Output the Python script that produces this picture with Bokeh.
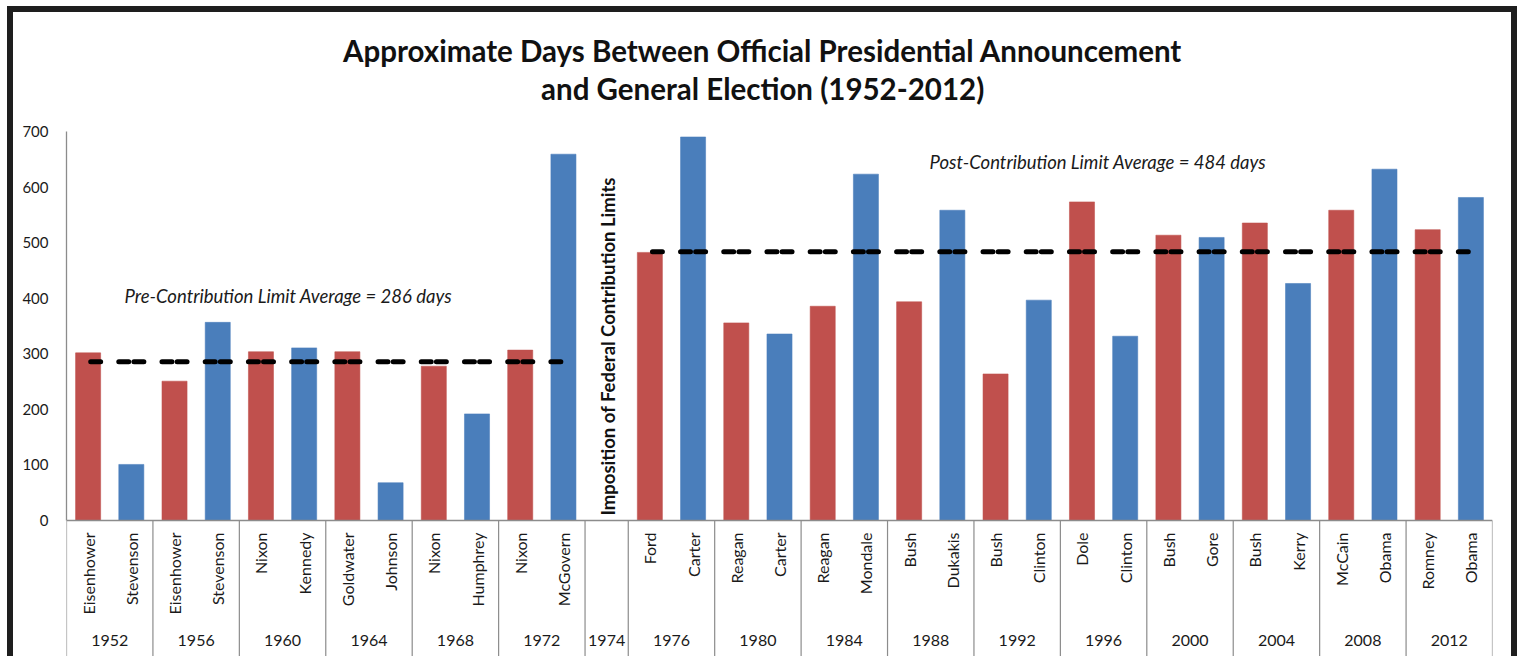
import math
from bokeh.plotting import figure
from bokeh.models import Range1d, FixedTicker, ColumnDataSource
from bokeh.core.properties import value
from bokeh.embed import file_html
from bokeh.resources import INLINE

# ---------------- data ----------------
years = ["1952", "1956", "1960", "1964", "1968", "1972", "1974", "1976", "1980",
         "1984", "1988", "1992", "1996", "2000", "2004", "2008", "2012"]
republicans = ["Eisenhower", "Eisenhower", "Nixon", "Goldwater", "Nixon", "Nixon", None,
               "Ford", "Reagan", "Reagan", "Bush", "Bush", "Dole", "Bush", "Bush",
               "McCain", "Romney"]
republican_days = [302, 251, 304, 304, 278, 307, None, 483, 356, 386, 394, 264, 574,
                   514, 536, 559, 524]
democrats = ["Stevenson", "Stevenson", "Kennedy", "Johnson", "Humphrey", "McGovern", None,
             "Carter", "Carter", "Mondale", "Dukakis", "Clinton", "Clinton", "Gore",
             "Kerry", "Obama", "Obama"]
democrat_days = [101, 357, 311, 68, 192, 660, None, 691, 336, 624, 559, 397, 332, 510,
                 427, 633, 582]
pre_limit_average = 286
post_limit_average = 484
limit_year = "1974"
y_ticks = [0, 100, 200, 300, 400, 500, 600, 700]

title_lines = ["Approximate Days Between Official Presidential Announcement",
               "and General Election (1952-2012)"]
pre_label = "Pre-Contribution Limit Average = 286 days"
post_label = "Post-Contribution Limit Average = 484 days"
limit_label = "Imposition of Federal  Contribution Limits"

RED = "#C0504D"
BLUE = "#4A7EBB"
TXT = "#1a1a1a"
AXIS = "#8c8c8c"
FONT = "Lato"

# ---------------- slot layout from categories ----------------
slot_x, slot_name, slot_val, slot_col = [], [], [], []
group_start, group_end = [], []
i = 0
for y, r, rv, d, dv in zip(years, republicans, republican_days, democrats, democrat_days):
    group_start.append(i)
    if r is None:
        i += 1
    else:
        slot_x.append(i + 0.5); slot_name.append(r); slot_val.append(rv); slot_col.append(RED)
        slot_x.append(i + 1.5); slot_name.append(d); slot_val.append(dv); slot_col.append(BLUE)
        i += 2
    group_end.append(i)
n_slots = i
limit_idx = years.index(limit_year)
limit_slot = group_start[limit_idx]

Y0, Y1 = -255.9, 915.3
p = figure(width=1510, height=650, x_range=Range1d(0, n_slots), y_range=Range1d(Y0, Y1),
           output_backend="svg", toolbar_location=None, x_axis_location=None,
           min_border_left=53, min_border_right=31, min_border_top=0, min_border_bottom=0)
p.styles = {"margin-left": "7px", "margin-top": "6px",
            "border-top": "6px solid #1e1e1e", "border-left": "6px solid #1e1e1e",
            "border-right": "6px solid #1e1e1e"}
p.outline_line_color = None
p.xgrid.visible = False
p.ygrid.visible = False
p.background_fill_color = "white"
p.border_fill_color = "white"

ax = p.yaxis[0]
ax.ticker = FixedTicker(ticks=y_ticks)
ax.bounds = (0, 700)
ax.axis_line_color = AXIS
ax.axis_line_width = 1.3
ax.major_tick_in = 0
ax.major_tick_out = 0
ax.minor_tick_in = 0
ax.minor_tick_out = 0
ax.major_label_standoff = 18
ax.major_label_text_font = FONT
ax.major_label_text_font_size = "15px"
ax.major_label_text_color = TXT

# title (two centred lines)
p.text(x=[16.11, 16.11], y=[847.7, 778.4], text=title_lines, text_align="center",
       text_baseline="alphabetic", text_font=value(FONT), text_font_style="bold",
       text_font_size="29.5px", text_color="#111111")

# bars
src = ColumnDataSource(dict(x=slot_x, top=slot_val, color=slot_col, name=slot_name))
p.vbar(x="x", top="top", bottom=0, width=0.58, fill_color="color", line_color="color",
       line_alpha=0.55, line_width=1, source=src)

# x axis line and separators
p.segment(x0=[0], y0=[0], x1=[n_slots], y1=[0], line_color=AXIS, line_width=1.3)
bounds = sorted(set(group_start + group_end))
p.segment(x0=bounds, y0=[0] * len(bounds), x1=bounds, y1=[Y0] * len(bounds),
          line_color=AXIS, line_width=1.2)

# candidate labels
p.text(x=slot_x, y=[-21.6] * len(slot_x), text=slot_name, angle=math.pi / 2,
       text_align="right", text_baseline="middle", text_font=value(FONT),
       text_font_size="16px", text_color=TXT)
# year labels
gx = [(s + e) / 2 for s, e in zip(group_start, group_end)]
p.text(x=gx, y=[-217] * len(gx), text=years, text_align="center", text_baseline="middle",
       text_font=value(FONT), text_font_size="16px", text_color=TXT)

# average dashed lines
def dashes(first, last, yv):
    x0, x1 = [], []
    for k in range(first, last + 1):
        c = k + 0.5
        if k != first:
            x0.append(c - 0.29); x1.append(c - 0.06)
        if k != last:
            x0.append(c + 0.06); x1.append(c + 0.29)
    return x0, x1, [yv] * len(x0)

a0, a1, ay = dashes(0, limit_slot - 1, pre_limit_average)
b0, b1, by = dashes(limit_slot + 1, n_slots - 1, post_limit_average)
p.segment(x0=a0 + b0, y0=ay + by, x1=a1 + b1, y1=ay + by, line_color="black",
          line_width=5, line_cap="round")

# annotations
p.text(x=[1.342], y=[404], text=[pre_label], text_align="left", text_baseline="alphabetic",
       text_font=value(FONT), text_font_style="italic", text_font_size="18.5px", text_color=TXT)
p.text(x=[19.97], y=[645.4], text=[post_label], text_align="left", text_baseline="alphabetic",
       text_font=value(FONT), text_font_style="italic", text_font_size="18.5px", text_color=TXT)
p.text(x=[limit_slot + 0.54], y=[9], text=[limit_label], angle=math.pi / 2,
       text_align="left", text_baseline="middle", text_font=value(FONT),
       text_font_style="bold", text_font_size="18.5px", text_color="#111111")

open("out.html", "w").write(file_html(p, INLINE))
